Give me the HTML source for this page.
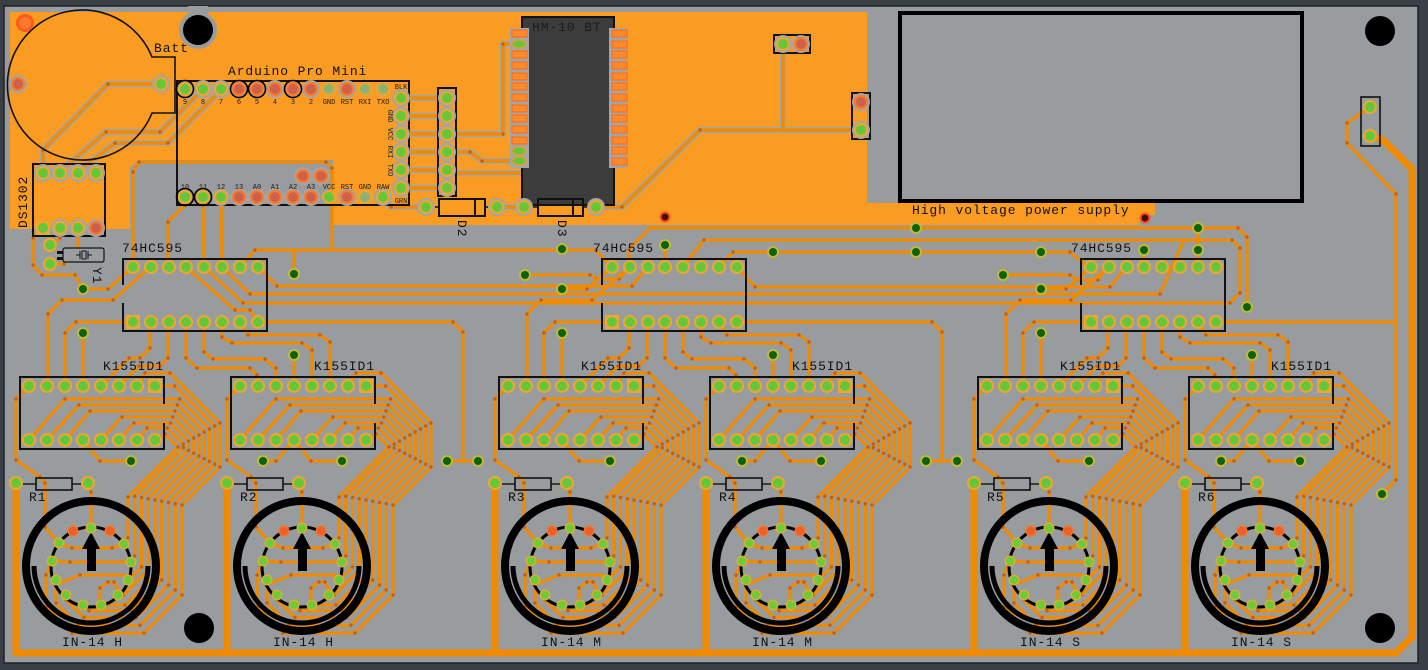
<!DOCTYPE html>
<html><head><meta charset="utf-8">
<style>
html,body{margin:0;padding:0;background:#3a3e45;}
svg{display:block}
.t{fill:none;stroke:#f08a00;stroke-width:3.2;stroke-linejoin:round;stroke-linecap:round;marker-mid:url(#dt)}
.tp{fill:none;stroke:#f08a00;stroke-width:3.4;stroke-linejoin:round;stroke-linecap:round;marker-mid:url(#dt)}
.tc{fill:none;stroke:#a3a5a7;stroke-width:6.5;stroke-linejoin:round;stroke-linecap:round}
.tk{fill:none;stroke:#f08a00;stroke-width:7;stroke-linejoin:round;stroke-linecap:round}
.s{fill:none;stroke:#111;stroke-width:2}
.tx{font-family:"Liberation Mono",monospace;font-size:13px;fill:#111;letter-spacing:0.9px}
.sm{font-family:"Liberation Mono",monospace;font-size:7px;fill:#1a1a1a;text-anchor:middle}
</style></head><body>
<svg width="1428" height="670" viewBox="0 0 1428 670" xmlns="http://www.w3.org/2000/svg">
<defs>
<marker id="dt" markerWidth="6" markerHeight="6" refX="3" refY="3" markerUnits="userSpaceOnUse"><circle cx="3" cy="3" r="1.7" fill="#c45f10"/></marker>
<g id="pg"><circle r="7" fill="#eea62e"/><circle r="5" fill="#62c83a"/></g>
<g id="pgg"><circle r="7" fill="#e4a83a"/><circle r="5" fill="#8fb070"/></g>
<g id="pr"><circle r="7" fill="#ff7a22"/><circle r="5" fill="#cf604c"/></g>
<g id="ps"><rect x="-7" y="-7" width="14" height="14" fill="#eea62e"/><circle r="5" fill="#62c83a"/></g>
<g id="pv"><circle r="6" fill="#c2b838"/><circle r="4" fill="#0b620b"/></g>
<g id="pt"><circle r="5.5" fill="#d8b030"/><circle r="4" fill="#6acc38"/></g>
<g id="po"><circle r="5.5" fill="#ff7020"/><circle r="4" fill="#e8602a"/></g>
<g id="pgr"><circle r="9" fill="#a3a5a7"/><circle r="7" fill="#eea62e"/><circle r="5" fill="#62c83a"/></g>
<g id="prr"><circle r="9" fill="#a3a5a7"/><circle r="7" fill="#ff7a22"/><circle r="5" fill="#cf604c"/></g>

<!-- pour traces -->
<g id="ptr">
<polyline points="401,98 447,98"/>
<polyline points="401,116 447,116"/>
<polyline points="401,134 447,134 503,134 503,44 519,44"/>
<polyline points="401,152 447,152 470,152 482,161 519,161"/>
<polyline points="401,170 447,170"/>
<polyline points="519,151 538,151 538,173 449,173"/>
<polyline points="401,188 447,188"/>
<polyline points="383,197 391,207 426,207"/>
<polyline points="497,207 524,207"/>
<polyline points="596,207 622,207 700,130 783,130 861,130"/>
<polyline points="783,130 783,44"/>
<polyline points="161,84 108,84 43,150 43,173"/>
<polyline points="203,89 160,132 106,132 62,170"/>
<polyline points="222,89 168,143 115,143 80,170"/>
</g>

<!-- module: K155ID1 + tube -->
<g id="m">
<g class="t">
<polyline points="137,386 145,373 170,373 220,423 220,467 182,505 182,595 144,633 72,633 46,607 46,575 52,561"/>
<polyline points="155,386 174.75,386 214.75,426 214.75,464.25 175.25,503.75 175.25,590 140,625.25 78,625.25 56,603 56,580"/>
<polyline points="29,440 65,399 179.5,399 209.5,429 209.5,461.5 168.5,502.5 168.5,585 136,617.5 84,617.5 66,600 66,595"/>
<polyline points="47,440 79,405 177.25,405 204.25,432 204.25,458.75 161.75,501.25 161.75,580 131,610.75 89,610.75 83,605"/>
<polyline points="65,440 90,411 175,411 199,435 199,456 155,500 155,575 125,605 101,605"/>
<polyline points="101,440 122,417 172.75,417 193.75,438 193.75,453.25 148.25,498.75 148.25,570 123,595.25 118,595"/>
<polyline points="119,440 134,423 170.5,423 188.5,441 188.5,450.5 141.5,497.5 141.5,567 128,580"/>
<polyline points="137,440 147,428 167.25,428 183.25,444 183.25,447.75 134.75,496.25 134.75,556 131,562"/>
<polyline points="155,440 165,434 178,447 128,497 128,538 124,544"/>
<polyline points="29,386 16,399 16,460 40,477 45,483 45,527 59,543"/>
<polyline points="88,483 91,492 91,528"/>
<polyline points="83,440 100,461 131,461"/>
<polyline points="52,561 70,562 130,562"/>
<polyline points="55,585 80,575 124,575"/>
<polyline points="100,600 100,588 108,582 114,582 118,590"/>
<polyline points="59,543 72,548 112,548 124,544"/>
</g>
<line x1="16" y1="483" x2="16" y2="653" class="tk"/>
<path class="s" d="M164,404V377H20V449H164V423"/>
<rect x="36" y="478" width="36" height="12" fill="none" stroke="#111" stroke-width="1.6"/>
<line x1="22" y1="484" x2="36" y2="484" stroke="#111" stroke-width="1.4"/>
<line x1="72" y1="484" x2="82" y2="484" stroke="#111" stroke-width="1.4"/>
<circle cx="91" cy="566" r="65" fill="none" stroke="#000" stroke-width="8"/>
<circle cx="91" cy="567" r="40" fill="none" stroke="#000" stroke-width="3"/>
<path d="M34,566 A57,57 0 0 0 148,566" fill="none" stroke="#000" stroke-width="5"/>
<polygon points="91,532 82,549 87,549 87,571 96,571 96,549 100,549" fill="#000"/>
<use href="#pg" x="29" y="386"/><use href="#pg" x="47" y="386"/><use href="#pg" x="65" y="386"/><use href="#pg" x="83" y="386"/><use href="#pg" x="101" y="386"/><use href="#pg" x="119" y="386"/><use href="#pg" x="137" y="386"/><use href="#ps" x="155" y="386"/>
<use href="#pg" x="29" y="440"/><use href="#pg" x="47" y="440"/><use href="#pg" x="65" y="440"/><use href="#pg" x="83" y="440"/><use href="#pg" x="101" y="440"/><use href="#pg" x="119" y="440"/><use href="#pg" x="137" y="440"/><use href="#pg" x="155" y="440"/>
<use href="#pg" x="16" y="483"/><use href="#pg" x="88" y="483"/>
<use href="#pt" x="91" y="528"/><use href="#po" x="73" y="531"/><use href="#po" x="110" y="531"/>
<use href="#pt" x="59" y="543"/><use href="#pt" x="124" y="544"/><use href="#pt" x="52" y="561"/><use href="#pt" x="131" y="562"/>
<use href="#pt" x="56" y="580"/><use href="#pt" x="128" y="580"/><use href="#pt" x="66" y="595"/><use href="#pt" x="118" y="595"/>
<use href="#pt" x="83" y="605"/><use href="#pt" x="101" y="605"/>
<use href="#pv" x="131" y="461"/>
</g>

<!-- group: 74HC595 + 2 modules -->
<g id="g">
<g class="t">
<polyline points="133,267 108,289 83,289"/>
<polyline points="150,267 113,300 62,300 48,314 48,386"/>
<polyline points="133,322 76,322 65,333 65,386"/>
<polyline points="83,333 83,386"/>
<polyline points="150,322 150,348 140,358 129,358 101,386"/>
<polyline points="168,322 168,358 160,366 139,366 119,386"/>
<polyline points="186,322 186,358 197,368 250,368 257,375 257,386"/>
<polyline points="204,322 204,352 213,359 265,359 276,368 276,386"/>
<polyline points="294,355 294,386"/>
<polyline points="222,322 222,337 232,343 302,343 312,350 312,386"/>
<polyline points="240,322 248,335 320,335 330,342 330,386"/>
<polyline points="294,440 276,461 263,461"/>
</g>
<use href="#m"/>
<use href="#m" x="211"/>
<path class="s" d="M123,285V259H267V331H123V303"/>
<use href="#pg" x="133" y="267"/><use href="#pg" x="151" y="267"/><use href="#pg" x="169" y="267"/><use href="#pg" x="186" y="267"/><use href="#pg" x="204" y="267"/><use href="#pg" x="222" y="267"/><use href="#pg" x="240" y="267"/><use href="#pg" x="258" y="267"/>
<use href="#ps" x="133" y="322"/><use href="#pg" x="151" y="322"/><use href="#pg" x="169" y="322"/><use href="#pg" x="186" y="322"/><use href="#pg" x="204" y="322"/><use href="#pg" x="222" y="322"/><use href="#pg" x="240" y="322"/><use href="#pg" x="258" y="322"/>
<use href="#pv" x="83" y="289"/><use href="#pv" x="83" y="333"/><use href="#pv" x="294" y="355"/><use href="#pv" x="263" y="461"/>
</g>
</defs>

<!-- board -->
<rect x="0" y="0" width="1428" height="670" fill="#3a3e45"/>
<rect x="4" y="6" width="1414" height="657" fill="#989c9f" stroke="#1e2126" stroke-width="1.5"/>

<!-- copper pour -->
<path d="M10,12H867V203H1155V215H1140V225H333V160H138L130,168V229H10Z" fill="#fa9c22"/>
<rect x="188" y="6" width="20" height="14" fill="#989c9f"/>
<circle cx="198" cy="30" r="19" fill="#989c9f"/>

<!-- pour traces with clearance -->
<use href="#ptr" class="tc"/>
<use href="#ptr" class="tp"/>

<!-- gray-area global traces -->
<g class="t">
<polyline points="133,267 133,172 139,162 326,162 332,168 332,250"/>
<polyline points="185,197 185,205 168,222 168,267"/>
<polyline points="203,197 204,267"/>
<polyline points="221,197 222,267"/>
<polyline points="43,228 33,238 33,265 42,275 75,275 83,289"/>
<polyline points="60,228 60,238 50,245"/>
<polyline points="78,228 78,250 64,264 50,264"/>
<polyline points="240,267 255,250 596,250 611,267"/>
<polyline points="294,250 294,274"/>
<polyline points="525,275 590,275 597,279 619,279 629,267"/>
<polyline points="258,267 277,286 632,286 647,267"/>
<polyline points="222,267 250,294 1160,294 1184,240"/>
<polyline points="204,267 243,303 1230,303 1240,293 1240,248 1232,240 704,240 683,267"/>
<polyline points="650,228 1238,228 1247,237 1247,307"/>
<polyline points="650,228 629,249 629,267"/>
<polyline points="719,267 733,252 1070,252 1088,267"/>
<polyline points="1003,275 1070,275 1077,280 1098,280 1107,267"/>
<polyline points="737,267 755,287 1110,287 1126,267"/>
<polyline points="1144,250 1144,267"/>
<polyline points="1198,228 1198,267"/>
<polyline points="665,245 665,267"/>
<polyline points="186,267 235,310 250,310 258,322"/>
<polyline points="1216,322 1396,322"/>
<polyline points="258,322 453,322 463,332 463,461"/>
<polyline points="447,461 478,461"/>
<polyline points="737,322 932,322 942,332 942,461"/>
<polyline points="926,461 957,461"/>
<polyline points="1382,494 1396,480 1396,194 1347,143 1347,123 1370,107"/>
</g>
<polyline class="tk" points="1370,136 1383,140 1412,169 1412,637 1396,653 16,653"/>

<!-- groups -->
<use href="#g"/>
<use href="#g" x="479"/>
<use href="#g" x="958"/>

<!-- global vias -->
<use href="#pv" x="294" y="274"/><use href="#pv" x="525" y="275"/><use href="#pv" x="562" y="249"/>
<use href="#pv" x="773" y="252"/><use href="#pv" x="916" y="252"/><use href="#pv" x="1041" y="252"/>
<use href="#pv" x="1003" y="275"/><use href="#pv" x="916" y="228"/><use href="#pv" x="1198" y="228"/>
<use href="#pv" x="1198" y="250"/><use href="#pv" x="1144" y="250"/><use href="#pv" x="665" y="245"/>
<use href="#pv" x="1247" y="307"/><use href="#pv" x="447" y="461"/><use href="#pv" x="478" y="461"/>
<use href="#pv" x="926" y="461"/><use href="#pv" x="957" y="461"/><use href="#pv" x="1382" y="494"/>
<g><circle cx="665" cy="217" r="5.5" fill="#ff5020"/><circle cx="665" cy="217" r="3.5" fill="#4a0a0a"/></g>
<g><circle cx="1145" cy="218" r="5.5" fill="#ff5020"/><circle cx="1145" cy="218" r="3.5" fill="#4a0a0a"/></g>

<!-- mounting holes -->
<circle cx="198" cy="30" r="15" fill="#000"/>
<circle cx="1380" cy="31" r="15" fill="#000"/>
<circle cx="199" cy="628" r="15" fill="#000"/>
<circle cx="1380" cy="628" r="15" fill="#000"/>

<!-- battery -->
<path d="M152,57 A75,75 0 1 0 152,113 H175 V57 Z" fill="none" stroke="#111" stroke-width="1.6"/>
<circle cx="25" cy="23" r="9" fill="#ff5a1a"/><circle cx="25" cy="23" r="6" fill="#ff7a30"/>
<use href="#prr" x="18" y="84"/><use href="#pgr" x="161" y="84"/>

<!-- Arduino -->
<rect x="177" y="81" width="232" height="124" class="s"/>
<use href="#pgr" x="185" y="89"/><use href="#pgr" x="203" y="89"/><use href="#pgr" x="221" y="89"/><use href="#prr" x="239" y="89"/><use href="#prr" x="257" y="89"/><use href="#prr" x="275" y="89"/><use href="#prr" x="293" y="89"/><use href="#prr" x="311" y="89"/><use href="#pgg" x="329" y="89"/><use href="#prr" x="347" y="89"/><use href="#pgg" x="365" y="89"/><use href="#pgg" x="383" y="89"/>
<use href="#pg" x="185" y="197"/><use href="#pg" x="203" y="197"/><use href="#pgr" x="221" y="197"/><use href="#prr" x="239" y="197"/><use href="#prr" x="257" y="197"/><use href="#prr" x="275" y="197"/><use href="#prr" x="293" y="197"/><use href="#prr" x="311" y="197"/><use href="#pg" x="329" y="197"/><use href="#prr" x="347" y="197"/><use href="#pgg" x="365" y="197"/><use href="#pgr" x="383" y="197"/>
<use href="#prr" x="303" y="176"/><use href="#prr" x="321" y="176"/>
<use href="#pgr" x="401" y="98"/><use href="#pgr" x="401" y="116"/><use href="#pgr" x="401" y="134"/><use href="#pgr" x="401" y="152"/><use href="#pgr" x="401" y="170"/><use href="#pgr" x="401" y="188"/>
<g fill="none" stroke="#000" stroke-width="1.6">
<circle cx="185" cy="89" r="8.5"/><circle cx="239" cy="89" r="8.5"/><circle cx="257" cy="89" r="8.5"/><circle cx="293" cy="89" r="8.5"/>
<circle cx="185" cy="197" r="8.5"/><circle cx="203" cy="197" r="8.5"/>
</g>
<g class="sm">
<text x="185" y="104">9</text><text x="203" y="104">8</text><text x="221" y="104">7</text><text x="239" y="104">6</text><text x="257" y="104">5</text><text x="275" y="104">4</text><text x="293" y="104">3</text><text x="311" y="104">2</text><text x="329" y="104">GND</text><text x="347" y="104">RST</text><text x="365" y="104">RXI</text><text x="383" y="104">TXO</text>
<text x="185" y="189">10</text><text x="203" y="189">11</text><text x="221" y="189">12</text><text x="239" y="189">13</text><text x="257" y="189">A0</text><text x="275" y="189">A1</text><text x="293" y="189">A2</text><text x="311" y="189">A3</text><text x="329" y="189">VCC</text><text x="347" y="189">RST</text><text x="365" y="189">GND</text><text x="383" y="189">RAW</text>
<text x="401" y="89">BLK</text><text x="401" y="203">GRN</text>
<text transform="translate(388,116) rotate(90)">GND</text>
<text transform="translate(388,134) rotate(90)">VCC</text>
<text transform="translate(388,152) rotate(90)">RXI</text>
<text transform="translate(388,170) rotate(90)">TXO</text>
</g>

<!-- 6 pin header -->
<rect x="438" y="88" width="18" height="108" class="s"/>
<use href="#pgr" x="447" y="98"/><use href="#pgr" x="447" y="116"/><use href="#pgr" x="447" y="134"/><use href="#pgr" x="447" y="152"/><use href="#pgr" x="447" y="170"/><use href="#pgr" x="447" y="188"/>

<!-- HM-10 -->
<rect x="522" y="17" width="92" height="188" fill="#3c3c3c" stroke="#111" stroke-width="2"/>
<rect x="510" y="28" width="19" height="140" fill="#a3a5a7"/>
<rect x="609" y="28" width="19" height="140" fill="#a3a5a7"/>
<g fill="#ff8a2a" stroke="#ff6a10" stroke-width="1">
<rect x="512" y="30" width="15" height="7"/><rect x="512" y="62" width="15" height="7"/><rect x="512" y="73" width="15" height="7"/><rect x="512" y="83" width="15" height="7"/><rect x="512" y="94" width="15" height="7"/><rect x="512" y="105" width="15" height="7"/><rect x="512" y="115" width="15" height="7"/><rect x="512" y="126" width="15" height="7"/><rect x="512" y="137" width="15" height="7"/>
<rect x="612" y="30" width="15" height="7"/><rect x="612" y="41" width="15" height="7"/><rect x="612" y="51" width="15" height="7"/><rect x="612" y="62" width="15" height="7"/><rect x="612" y="73" width="15" height="7"/><rect x="612" y="83" width="15" height="7"/><rect x="612" y="94" width="15" height="7"/><rect x="612" y="105" width="15" height="7"/><rect x="612" y="115" width="15" height="7"/><rect x="612" y="126" width="15" height="7"/><rect x="612" y="137" width="15" height="7"/><rect x="612" y="147" width="15" height="7"/><rect x="612" y="158" width="15" height="7"/>
<rect x="512" y="51" width="15" height="7"/>
</g>
<g fill="#62c83a" stroke="#e0a030" stroke-width="1.5">
<ellipse cx="519" cy="44" rx="7" ry="4"/><ellipse cx="519" cy="151" rx="7" ry="4"/><ellipse cx="519" cy="161" rx="7" ry="4"/>
</g>
<text class="tx" x="532" y="31" style="fill:#1c1c1c">HM-10 BT</text>

<!-- diodes -->
<g stroke="#111" stroke-width="1.5">
<line x1="431" y1="207" x2="439" y2="207"/><line x1="485" y1="207" x2="492" y2="207"/>
<line x1="530" y1="207" x2="538" y2="207"/><line x1="583" y1="207" x2="590" y2="207"/>
</g>
<rect x="439" y="199" width="46" height="17" class="s"/><line x1="475" y1="199" x2="475" y2="216" stroke="#111" stroke-width="2"/>
<rect x="538" y="199" width="45" height="17" class="s"/><line x1="573" y1="199" x2="573" y2="216" stroke="#111" stroke-width="2"/>
<use href="#pgr" x="426" y="207"/><use href="#pgr" x="497" y="207"/><use href="#pgr" x="524" y="207"/><use href="#pgr" x="596" y="207"/>
<text class="tx" transform="translate(458,220) rotate(90)">D2</text>
<text class="tx" transform="translate(558,220) rotate(90)">D3</text>

<!-- headers top -->
<rect x="774" y="35" width="36" height="18" class="s"/>
<use href="#pgr" x="783" y="44"/><use href="#prr" x="801" y="44"/>
<rect x="852" y="93" width="18" height="46" class="s"/>
<use href="#prr" x="861" y="102"/><use href="#pgr" x="861" y="130"/>
<rect x="1361" y="97" width="19" height="49" fill="none" stroke="#111" stroke-width="1.6"/>
<use href="#pg" x="1370" y="107"/><use href="#pg" x="1370" y="136"/>

<!-- HV box -->
<rect x="900" y="13" width="402" height="188" fill="none" stroke="#000" stroke-width="4"/>
<text class="tx" x="912" y="214">High voltage power supply</text>

<!-- DS1302 -->
<rect x="33" y="164" width="72" height="72" class="s"/>
<use href="#pgr" x="43" y="173"/><use href="#pgr" x="60" y="173"/><use href="#pgr" x="78" y="173"/><use href="#pgr" x="96" y="173"/>
<rect x="36" y="221" width="14" height="14" fill="#a3a5a7"/><use href="#ps" x="43" y="228"/><use href="#pgr" x="60" y="228"/><use href="#pgr" x="78" y="228"/><use href="#prr" x="96" y="228"/>
<text class="tx" transform="translate(27,228) rotate(-90)">DS1302</text>

<!-- crystal -->
<rect x="63" y="248" width="41" height="14" rx="2" fill="#9a9ea0" stroke="#111" stroke-width="1.2"/>
<rect x="57" y="251" width="6" height="3" fill="#111"/><rect x="57" y="257" width="6" height="3" fill="#111"/>
<g stroke="#111" stroke-width="1"><line x1="76" y1="255" x2="80" y2="255"/><line x1="80" y1="251" x2="80" y2="259"/><rect x="82" y="251" width="4" height="8" fill="none"/><line x1="88" y1="251" x2="88" y2="259"/><line x1="88" y1="255" x2="92" y2="255"/></g>
<use href="#pg" x="50" y="245"/><use href="#pg" x="50" y="264"/>
<text class="tx" transform="translate(93,267) rotate(90)">Y1</text>

<!-- labels -->
<text class="tx" x="154" y="52">Batt</text>
<text class="tx" x="228" y="75">Arduino Pro Mini</text>
<text class="tx" x="122" y="252">74HC595</text>
<text class="tx" x="593" y="252">74HC595</text>
<text class="tx" x="1071" y="252">74HC595</text>
<text class="tx" x="103" y="370">K155ID1</text>
<text class="tx" x="314" y="370">K155ID1</text>
<text class="tx" x="581" y="370">K155ID1</text>
<text class="tx" x="792" y="370">K155ID1</text>
<text class="tx" x="1060" y="370">K155ID1</text>
<text class="tx" x="1271" y="370">K155ID1</text>
<text class="tx" x="29" y="501">R1</text>
<text class="tx" x="240" y="501">R2</text>
<text class="tx" x="508" y="501">R3</text>
<text class="tx" x="719" y="501">R4</text>
<text class="tx" x="987" y="501">R5</text>
<text class="tx" x="1198" y="501">R6</text>
<text class="tx" x="62" y="646">IN-14 H</text>
<text class="tx" x="273" y="646">IN-14 H</text>
<text class="tx" x="541" y="646">IN-14 M</text>
<text class="tx" x="752" y="646">IN-14 M</text>
<text class="tx" x="1020" y="646">IN-14 S</text>
<text class="tx" x="1231" y="646">IN-14 S</text>
</svg>
</body></html>
